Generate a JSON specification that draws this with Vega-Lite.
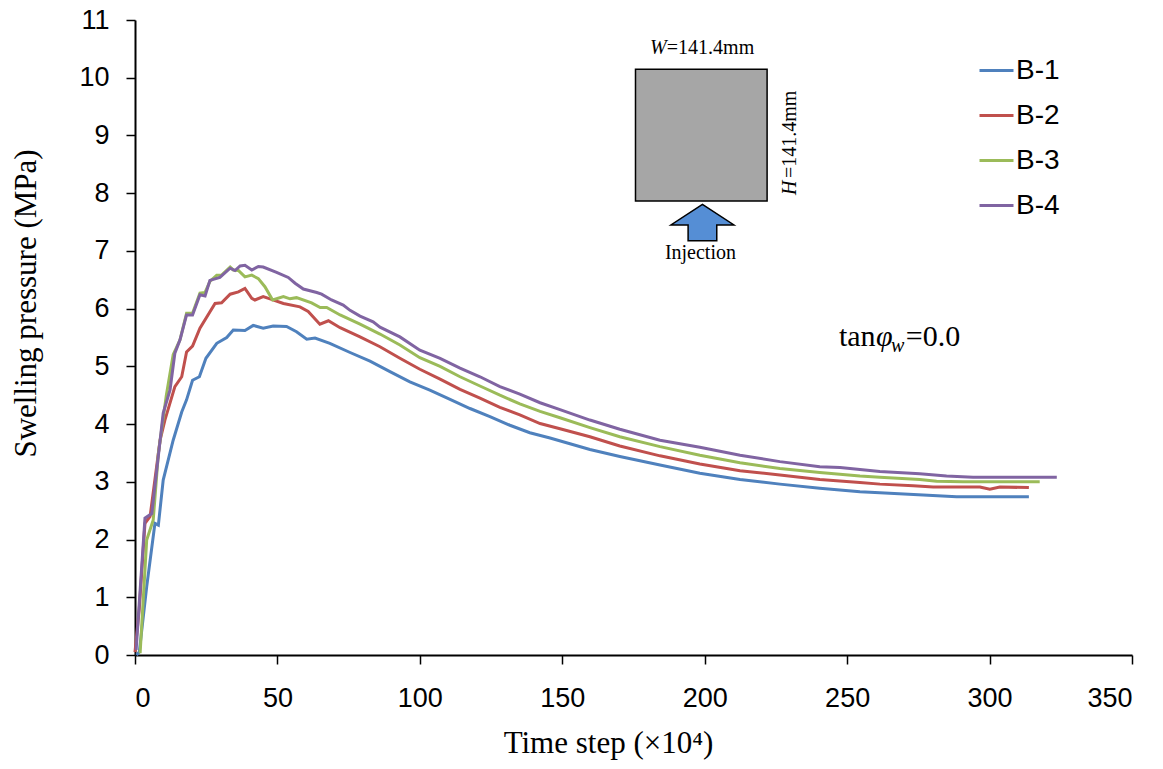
{
  "$schema": "https://vega.github.io/schema/vega-lite/v6.json",
  "width": 997,
  "height": 635,
  "autosize": {"type": "none"},
  "padding": {"left": 135, "top": 20, "right": 31, "bottom": 114},
  "background": "white",
  "config": {
    "view": {"stroke": null},
    "axis": {
      "grid": false,
      "domainColor": "black",
      "domainWidth": 2,
      "tickColor": "black",
      "tickWidth": 1.5,
      "tickSize": 9,
      "labelFont": "Liberation Sans",
      "labelFontSize": 27,
      "labelColor": "black",
      "titleFont": "Liberation Serif",
      "titleFontSize": 31,
      "titleFontWeight": "normal",
      "titleColor": "black"
    },
    "axisX": {"labelPadding": 21, "tickCount": 7, "titleX": 473, "titleY": 97, "titleBaseline": "alphabetic", "titleAnchor": "middle"},
    "axisY": {"labelPadding": 17, "tickCount": 11, "titleX": -100, "titleY": 283, "titleAngle": 270, "titleBaseline": "alphabetic", "titleAlign": "center"}
  },
  "encoding": {
    "x": {"field": "x", "type": "quantitative", "title": "Time step (×10⁴)", "scale": {"domain": [0, 350], "nice": false}},
    "y": {"field": "y", "type": "quantitative", "title": "Swelling pressure (MPa)", "scale": {"domain": [0, 11], "nice": false}}
  },
  "layer": [
    {
      "data": {"values": [{"x": 175.7, "x2": 221.9, "y": 10.146, "y2": 7.865}]},
      "mark": {"type": "rect", "fill": "#A6A6A6", "stroke": "black", "strokeWidth": 1.5},
      "encoding": {"x2": {"field": "x2"}, "y2": {"field": "y2"}}
    },
    {
      "data": {"values": [{"x": 199.2, "y": 7.492}]},
      "mark": {"type": "point", "shape": "M0,-0.578L1,0.079L0.455,0.079L0.455,0.578L-0.455,0.578L-0.455,0.079L-1,0.079Z", "size": 3969, "filled": true, "fill": "#558ED5", "stroke": "black", "strokeWidth": 1.5, "opacity": 1}
    },
    {
      "data": {"values": [{"x": 180.8, "y": 10.411, "label": "W"}]},
      "mark": {"type": "text", "font": "Liberation Serif", "fontSize": 20, "fontStyle": "italic", "align": "left", "baseline": "alphabetic", "color": "black"},
      "encoding": {"text": {"field": "label"}}
    },
    {
      "data": {"values": [{"x": 186.7, "y": 10.411, "label": "=141.4mm"}]},
      "mark": {"type": "text", "font": "Liberation Serif", "fontSize": 20, "align": "left", "baseline": "alphabetic", "color": "black"},
      "encoding": {"text": {"field": "label"}}
    },
    {
      "data": {"values": [{"x": 232.0, "y": 7.968, "label": "H"}]},
      "mark": {"type": "text", "font": "Liberation Serif", "fontSize": 20, "fontStyle": "italic", "angle": 270, "align": "left", "baseline": "alphabetic", "color": "black"},
      "encoding": {"text": {"field": "label"}}
    },
    {
      "data": {"values": [{"x": 232.0, "y": 8.263, "label": "=141.4mm"}]},
      "mark": {"type": "text", "font": "Liberation Serif", "fontSize": 20, "angle": 270, "align": "left", "baseline": "alphabetic", "color": "black"},
      "encoding": {"text": {"field": "label"}}
    },
    {
      "data": {"values": [{"x": 198.5, "y": 6.86, "label": "Injection"}]},
      "mark": {"type": "text", "font": "Liberation Serif", "fontSize": 20, "align": "center", "baseline": "alphabetic", "color": "black"},
      "encoding": {"text": {"field": "label"}}
    },
    {
      "data": {"values": [{"x": 247.1, "y": 5.353, "label": "tan"}, {"x": 270.6, "y": 5.353, "label": "=0.0"}]},
      "mark": {"type": "text", "font": "Liberation Serif", "fontSize": 30, "align": "left", "baseline": "alphabetic", "color": "black"},
      "encoding": {"text": {"field": "label"}}
    },
    {
      "data": {"values": [{"x": 260.1, "y": 5.353, "label": "φ"}]},
      "mark": {"type": "text", "font": "Liberation Serif", "fontSize": 30, "fontStyle": "italic", "align": "left", "baseline": "alphabetic", "color": "black"},
      "encoding": {"text": {"field": "label"}}
    },
    {
      "data": {"values": [{"x": 265.4, "y": 5.249, "label": "w"}]},
      "mark": {"type": "text", "font": "Liberation Serif", "fontSize": 20, "fontStyle": "italic", "align": "left", "baseline": "alphabetic", "color": "black"},
      "encoding": {"text": {"field": "label"}}
    },
    {
      "data": {"values": [
        {"s":"B-1","x":0.5,"y":0},{"s":"B-1","x":1.5,"y":0.05},{"s":"B-1","x":4.1,"y":1.18},{"s":"B-1","x":7,"y":2.28},{"s":"B-1","x":8.2,"y":2.25},{"s":"B-1","x":9.9,"y":3.03},{"s":"B-1","x":13.4,"y":3.72},{"s":"B-1","x":16.4,"y":4.21},{"s":"B-1","x":18.1,"y":4.42},{"s":"B-1","x":20.2,"y":4.76},{"s":"B-1","x":22.6,"y":4.82},{"s":"B-1","x":24.9,"y":5.14},{"s":"B-1","x":28.7,"y":5.4},{"s":"B-1","x":32.2,"y":5.5},{"s":"B-1","x":34.5,"y":5.63},{"s":"B-1","x":38.6,"y":5.62},{"s":"B-1","x":41.5,"y":5.71},{"s":"B-1","x":45,"y":5.66},{"s":"B-1","x":48.5,"y":5.7},{"s":"B-1","x":53.2,"y":5.69},{"s":"B-1","x":56.7,"y":5.6},{"s":"B-1","x":60.3,"y":5.47},{"s":"B-1","x":63.2,"y":5.49},{"s":"B-1","x":68.4,"y":5.4},{"s":"B-1","x":75.5,"y":5.24},{"s":"B-1","x":82.5,"y":5.09},{"s":"B-1","x":89.5,"y":4.91},{"s":"B-1","x":96.5,"y":4.73},{"s":"B-1","x":103.5,"y":4.59},{"s":"B-1","x":110.6,"y":4.43},{"s":"B-1","x":117.6,"y":4.27},{"s":"B-1","x":124.6,"y":4.13},{"s":"B-1","x":131.6,"y":3.98},{"s":"B-1","x":138.6,"y":3.85},{"s":"B-1","x":145.7,"y":3.76},{"s":"B-1","x":152.7,"y":3.66},{"s":"B-1","x":159.7,"y":3.56},{"s":"B-1","x":170.2,"y":3.44},{"s":"B-1","x":184.3,"y":3.29},{"s":"B-1","x":198.3,"y":3.15},{"s":"B-1","x":212.4,"y":3.04},{"s":"B-1","x":226.4,"y":2.96},{"s":"B-1","x":240.4,"y":2.89},{"s":"B-1","x":254.5,"y":2.83},{"s":"B-1","x":261.5,"y":2.81},{"s":"B-1","x":276.7,"y":2.77},{"s":"B-1","x":288.4,"y":2.74},{"s":"B-1","x":313.8,"y":2.74},
        {"s":"B-2","x":0,"y":0.05},{"s":"B-2","x":1.5,"y":0.8},{"s":"B-2","x":3.5,"y":2.28},{"s":"B-2","x":5.3,"y":2.4},{"s":"B-2","x":8.8,"y":3.72},{"s":"B-2","x":10.5,"y":4.07},{"s":"B-2","x":14,"y":4.65},{"s":"B-2","x":16.4,"y":4.82},{"s":"B-2","x":18.1,"y":5.25},{"s":"B-2","x":20.2,"y":5.35},{"s":"B-2","x":22.8,"y":5.66},{"s":"B-2","x":28.1,"y":6.09},{"s":"B-2","x":30.4,"y":6.1},{"s":"B-2","x":33.4,"y":6.25},{"s":"B-2","x":36.3,"y":6.29},{"s":"B-2","x":38.6,"y":6.35},{"s":"B-2","x":41,"y":6.18},{"s":"B-2","x":42.1,"y":6.15},{"s":"B-2","x":45,"y":6.21},{"s":"B-2","x":47.4,"y":6.17},{"s":"B-2","x":52.1,"y":6.09},{"s":"B-2","x":57.9,"y":6.03},{"s":"B-2","x":60.8,"y":5.95},{"s":"B-2","x":64.9,"y":5.73},{"s":"B-2","x":67.9,"y":5.79},{"s":"B-2","x":72,"y":5.67},{"s":"B-2","x":79,"y":5.51},{"s":"B-2","x":86,"y":5.34},{"s":"B-2","x":93,"y":5.14},{"s":"B-2","x":100,"y":4.95},{"s":"B-2","x":107.1,"y":4.78},{"s":"B-2","x":114.1,"y":4.6},{"s":"B-2","x":121.1,"y":4.45},{"s":"B-2","x":128.1,"y":4.29},{"s":"B-2","x":135.1,"y":4.16},{"s":"B-2","x":142.2,"y":4.01},{"s":"B-2","x":149.2,"y":3.92},{"s":"B-2","x":159.7,"y":3.78},{"s":"B-2","x":170.2,"y":3.62},{"s":"B-2","x":184.3,"y":3.45},{"s":"B-2","x":198.3,"y":3.31},{"s":"B-2","x":212.4,"y":3.19},{"s":"B-2","x":226.4,"y":3.12},{"s":"B-2","x":240.4,"y":3.04},{"s":"B-2","x":254.5,"y":2.99},{"s":"B-2","x":261.5,"y":2.96},{"s":"B-2","x":273.2,"y":2.93},{"s":"B-2","x":280.2,"y":2.91},{"s":"B-2","x":296.6,"y":2.91},{"s":"B-2","x":300.1,"y":2.87},{"s":"B-2","x":303.6,"y":2.91},{"s":"B-2","x":313.8,"y":2.9},
        {"s":"B-3","x":1.8,"y":0.03},{"s":"B-3","x":4.1,"y":1.99},{"s":"B-3","x":6.4,"y":2.34},{"s":"B-3","x":8.2,"y":3.49},{"s":"B-3","x":11,"y":4.5},{"s":"B-3","x":13.4,"y":5.2},{"s":"B-3","x":15.8,"y":5.46},{"s":"B-3","x":18.1,"y":5.92},{"s":"B-3","x":20.2,"y":5.92},{"s":"B-3","x":22.8,"y":6.27},{"s":"B-3","x":24.6,"y":6.28},{"s":"B-3","x":26.3,"y":6.47},{"s":"B-3","x":28.7,"y":6.58},{"s":"B-3","x":30.4,"y":6.58},{"s":"B-3","x":33.4,"y":6.72},{"s":"B-3","x":34.5,"y":6.67},{"s":"B-3","x":36.3,"y":6.66},{"s":"B-3","x":38.6,"y":6.55},{"s":"B-3","x":41,"y":6.58},{"s":"B-3","x":43.3,"y":6.52},{"s":"B-3","x":45.6,"y":6.38},{"s":"B-3","x":48.3,"y":6.15},{"s":"B-3","x":52.1,"y":6.21},{"s":"B-3","x":54.4,"y":6.17},{"s":"B-3","x":56.7,"y":6.19},{"s":"B-3","x":62,"y":6.1},{"s":"B-3","x":65,"y":6.02},{"s":"B-3","x":67.3,"y":6.02},{"s":"B-3","x":72,"y":5.89},{"s":"B-3","x":79,"y":5.73},{"s":"B-3","x":86,"y":5.56},{"s":"B-3","x":93,"y":5.37},{"s":"B-3","x":100,"y":5.15},{"s":"B-3","x":107.1,"y":5.0},{"s":"B-3","x":114.1,"y":4.82},{"s":"B-3","x":121.1,"y":4.66},{"s":"B-3","x":128.1,"y":4.5},{"s":"B-3","x":135.1,"y":4.35},{"s":"B-3","x":142.2,"y":4.22},{"s":"B-3","x":149.2,"y":4.11},{"s":"B-3","x":159.7,"y":3.94},{"s":"B-3","x":170.2,"y":3.78},{"s":"B-3","x":184.3,"y":3.61},{"s":"B-3","x":198.3,"y":3.46},{"s":"B-3","x":212.4,"y":3.33},{"s":"B-3","x":226.4,"y":3.23},{"s":"B-3","x":240.4,"y":3.16},{"s":"B-3","x":254.5,"y":3.1},{"s":"B-3","x":261.5,"y":3.08},{"s":"B-3","x":275.5,"y":3.04},{"s":"B-3","x":281.4,"y":3.01},{"s":"B-3","x":290.7,"y":3.0},{"s":"B-3","x":317.6,"y":3.0},
        {"s":"B-4","x":0.4,"y":0.09},{"s":"B-4","x":3.5,"y":2.37},{"s":"B-4","x":5.9,"y":2.45},{"s":"B-4","x":9.9,"y":4.19},{"s":"B-4","x":12.3,"y":4.59},{"s":"B-4","x":14,"y":5.23},{"s":"B-4","x":15.8,"y":5.46},{"s":"B-4","x":18.1,"y":5.89},{"s":"B-4","x":20.2,"y":5.89},{"s":"B-4","x":22.8,"y":6.24},{"s":"B-4","x":24.6,"y":6.22},{"s":"B-4","x":26.3,"y":6.49},{"s":"B-4","x":29.8,"y":6.54},{"s":"B-4","x":33.4,"y":6.7},{"s":"B-4","x":35.1,"y":6.66},{"s":"B-4","x":36.9,"y":6.74},{"s":"B-4","x":38.6,"y":6.75},{"s":"B-4","x":41,"y":6.67},{"s":"B-4","x":43.3,"y":6.73},{"s":"B-4","x":45,"y":6.72},{"s":"B-4","x":49.7,"y":6.63},{"s":"B-4","x":53.8,"y":6.54},{"s":"B-4","x":56.2,"y":6.44},{"s":"B-4","x":59.1,"y":6.34},{"s":"B-4","x":63.8,"y":6.28},{"s":"B-4","x":65.5,"y":6.25},{"s":"B-4","x":69,"y":6.15},{"s":"B-4","x":73.1,"y":6.06},{"s":"B-4","x":75.5,"y":5.97},{"s":"B-4","x":79,"y":5.87},{"s":"B-4","x":83.6,"y":5.77},{"s":"B-4","x":86,"y":5.68},{"s":"B-4","x":93,"y":5.51},{"s":"B-4","x":100,"y":5.28},{"s":"B-4","x":107.1,"y":5.14},{"s":"B-4","x":114.1,"y":4.97},{"s":"B-4","x":121.1,"y":4.82},{"s":"B-4","x":128.1,"y":4.65},{"s":"B-4","x":135.1,"y":4.52},{"s":"B-4","x":142.2,"y":4.37},{"s":"B-4","x":149.2,"y":4.25},{"s":"B-4","x":159.7,"y":4.07},{"s":"B-4","x":170.2,"y":3.91},{"s":"B-4","x":184.3,"y":3.72},{"s":"B-4","x":198.3,"y":3.6},{"s":"B-4","x":212.4,"y":3.46},{"s":"B-4","x":226.4,"y":3.35},{"s":"B-4","x":240.4,"y":3.26},{"s":"B-4","x":247.5,"y":3.25},{"s":"B-4","x":261.5,"y":3.18},{"s":"B-4","x":275.5,"y":3.14},{"s":"B-4","x":284.9,"y":3.1},{"s":"B-4","x":294.2,"y":3.08},{"s":"B-4","x":323.6,"y":3.08}
      ]},
      "mark": {"type": "line", "strokeWidth": 3, "interpolate": "linear"},
      "encoding": {
        "color": {
          "field": "s",
          "type": "nominal",
          "scale": {"domain": ["B-1", "B-2", "B-3", "B-4"], "range": ["#4F81BD", "#C0504D", "#9BBB59", "#8064A2"]},
          "legend": {
            "orient": "none",
            "legendX": 843,
            "legendY": 32,
            "title": null,
            "symbolType": "stroke",
            "symbolSize": 1156,
            "symbolStrokeWidth": 3,
            "labelFont": "Liberation Sans",
            "labelFontSize": 28,
            "labelColor": "black",
            "labelOffset": 1,
            "rowPadding": 12,
            "padding": 0
          }
        },
        "order": {"field": "x", "type": "quantitative"}
      }
    }
  ]
}
